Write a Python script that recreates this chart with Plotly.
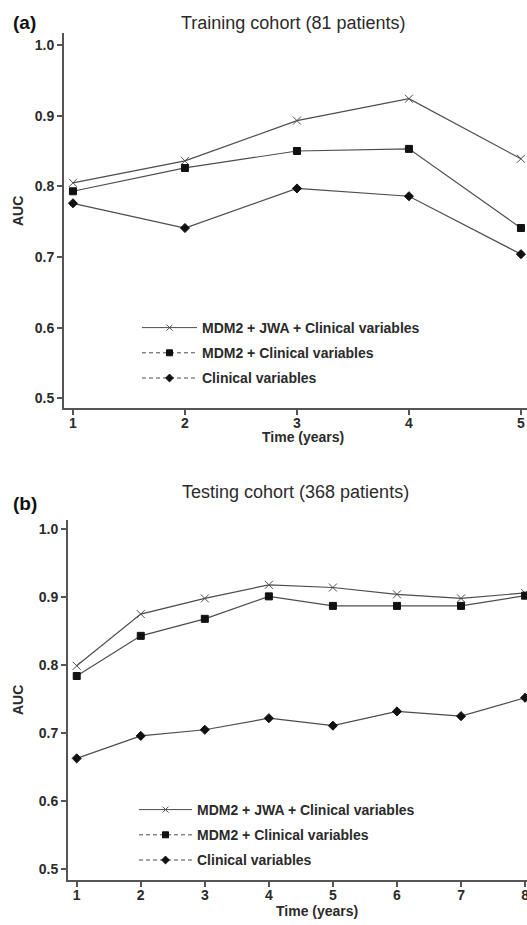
import plotly.graph_objects as go

# ---- data ----
years_a = [1, 2, 3, 4, 5]
mdm2_jwa_a = [0.805, 0.836, 0.893, 0.924, 0.839]
mdm2_a = [0.793, 0.826, 0.850, 0.853, 0.741]
clinical_a = [0.776, 0.741, 0.797, 0.786, 0.704]

years_b = [1, 2, 3, 4, 5, 6, 7, 8]
mdm2_jwa_b = [0.799, 0.875, 0.898, 0.918, 0.914, 0.904, 0.898, 0.906]
mdm2_b = [0.784, 0.843, 0.868, 0.901, 0.887, 0.887, 0.887, 0.902]
clinical_b = [0.663, 0.696, 0.705, 0.722, 0.711, 0.732, 0.725, 0.752]

series_names = ["MDM2 + JWA + Clinical variables", "MDM2 + Clinical variables", "Clinical variables"]
yticks = [0.5, 0.6, 0.7, 0.8, 0.9, 1.0]
title_a = "Training cohort (81 patients)"
title_b = "Testing cohort (368 patients)"

W, H = 527, 925
LINE = "#4d4d4d"
TXT = "#2b2b2b"
FONT = "Liberation Sans"

def px(x):
    return x / W

def py(y):
    return 1 - y / H

fig = go.Figure()

styles = [
    dict(symbol="x-thin", size=8, color=LINE, lw=1, dash="solid"),
    dict(symbol="square", size=7, color="#111111", lw=1, dash="4px,3px"),
    dict(symbol="diamond", size=7, color="#111111", lw=1, dash="4px,3px"),
]

def add_panel(xs, ys_list, xaxis, yaxis, legend):
    for i, (ys, st) in enumerate(zip(ys_list, styles)):
        fig.add_trace(go.Scatter(
            x=xs, y=ys, mode="lines+markers", xaxis=xaxis, yaxis=yaxis,
            line=dict(color=LINE, width=1.2),
            marker=dict(symbol=st["symbol"], size=st["size"], color=st["color"],
                        line=dict(color=st["color"], width=st["lw"])),
            showlegend=False, cliponaxis=False,
        ))
    for i, st in enumerate(styles):
        fig.add_trace(go.Scatter(
            x=[None], y=[None], mode="lines+markers", xaxis=xaxis, yaxis=yaxis,
            name=series_names[i], legend=legend, legendgroup=f"{legend}{i}",
            line=dict(color=LINE, width=1, dash=st["dash"]),
            marker=dict(symbol=st["symbol"], size=6, color=st["color"],
                        line=dict(color=st["color"], width=1)),
        ))

add_panel(years_a, [mdm2_jwa_a, mdm2_a, clinical_a], "x", "y", "legend")
add_panel(years_b, [mdm2_jwa_b, mdm2_b, clinical_b], "x2", "y2", "legend2")

axis_common = dict(
    showline=True, linecolor="#555555", linewidth=2, showgrid=False, zeroline=False,
    ticks="outside", ticklen=5, tickwidth=1.5, tickcolor="#555555", automargin=False,
    tickfont=dict(family=FONT, size=14, color=TXT, weight="bold"),
)

fig.update_layout(
    width=W, height=H,
    margin=dict(l=0, r=0, t=0, b=0),
    plot_bgcolor="white", paper_bgcolor="white",
    xaxis=dict(domain=[px(64), 1], range=[0.92, 5.054], tickvals=years_a, anchor="y",
               ticklabeloverflow="allow", ticklabelstandoff=-4, **axis_common),
    yaxis=dict(domain=[py(408), py(33)], range=[0.4863, 1.017], tickvals=yticks,
               tickformat=".1f", anchor="x", **axis_common),
    xaxis2=dict(domain=[px(68), 1], range=[0.864, 8.03], tickvals=years_b, anchor="y2",
                ticklabeloverflow="allow", ticklabelstandoff=-4, **axis_common),
    yaxis2=dict(domain=[py(880), py(520)], range=[0.4843, 1.0132], tickvals=yticks,
                tickformat=".1f", anchor="x2", **axis_common),
    legend=dict(x=px(137), y=py(312), xanchor="left", yanchor="top",
                bgcolor="rgba(0,0,0,0)", tracegroupgap=4, itemwidth=55,
                font=dict(family=FONT, size=14, color=TXT, weight="bold")),
    legend2=dict(x=px(134), y=py(794), xanchor="left", yanchor="top",
                 bgcolor="rgba(0,0,0,0)", tracegroupgap=4, itemwidth=53,
                 font=dict(family=FONT, size=14, color=TXT, weight="bold")),
)

ann_font_title = dict(family=FONT, size=18, color=TXT)
ann_font_lab = dict(family=FONT, size=19, color="#111111", weight="bold")
ann_font_axis = dict(family=FONT, size=14, color=TXT, weight="bold")

annotations = [
    dict(text=title_a, x=px(293), y=py(23), font=ann_font_title),
    dict(text=title_b, x=px(295), y=py(492), font=ann_font_title),
    dict(text="(a)", x=px(24), y=py(23), font=ann_font_lab),
    dict(text="(b)", x=px(25), y=py(503), font=ann_font_lab),
    dict(text="AUC", x=px(18), y=py(211), textangle=-90, font=ann_font_axis),
    dict(text="AUC", x=px(18), y=py(700), textangle=-90, font=ann_font_axis),
    dict(text="Time (years)", x=px(303), y=py(437), font=ann_font_axis),
    dict(text="Time (years)", x=px(317), y=py(911), font=ann_font_axis),
]
for a in annotations:
    fig.add_annotation(xref="paper", yref="paper", xanchor="center", yanchor="middle",
                       showarrow=False, **a)

fig.write_html("out.html", config={"displayModeBar": False},
               post_script="document.body.style.margin='0';document.body.style.overflow='hidden';")
